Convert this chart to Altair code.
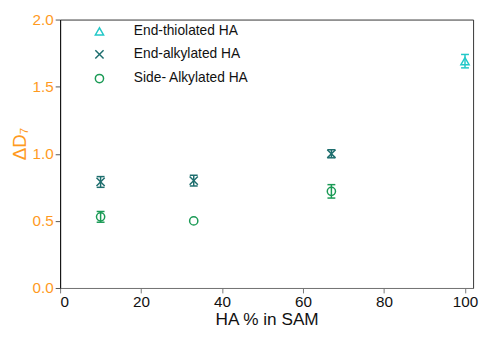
import altair as alt
import pandas as pd

series = ["End-thiolated HA", "End-alkylated HA", "Side- Alkylated HA"]
colors = ["#22C8C8", "#1E6E6E", "#1A9A55"]
shapes = ["triangle-up", "M-1,-1L1,1M-1,1L1,-1", "circle"]

thiol_x = [100]
thiol_y = [1.69]
thiol_err = [0.05]

alkyl_x = [10, 33, 67]
alkyl_y = [0.79, 0.80, 1.00]
alkyl_err = [0.04, 0.04, 0.03]

side_x = [10, 33, 67]
side_y = [0.53, 0.50, 0.72]
side_err = [0.04, 0.0, 0.05]

rows = []
for name, xs, ys, es in [
    (series[0], thiol_x, thiol_y, thiol_err),
    (series[1], alkyl_x, alkyl_y, alkyl_err),
    (series[2], side_x, side_y, side_err),
]:
    for x, y, e in zip(xs, ys, es):
        rows.append({"series": name, "x": x, "y": y, "err": e, "lo": y - e, "hi": y + e})
df = pd.DataFrame(rows)

FONT = "Liberation Sans"
ORANGE = "#FF9A1E"

xscale = alt.Scale(domain=[0, 102], nice=False, zero=False)
yscale = alt.Scale(domain=[0, 2], nice=False)
legend = alt.Legend(title=None, orient="none", legendX=33, legendY=5,
                    symbolSize=70, symbolStrokeWidth=1.5, labelFontSize=14,
                    labelFont=FONT, labelColor="#111", labelOffset=28,
                    rowPadding=8.5, symbolOpacity=1, symbolFillColor="transparent")
color = alt.Color("series:N", scale=alt.Scale(domain=series, range=colors), legend=legend)
shape = alt.Shape("series:N", scale=alt.Scale(domain=series, range=shapes), legend=legend)

base = alt.Chart(df)

xax = alt.X("x:Q", scale=xscale, title="HA % in SAM",
            axis=alt.Axis(values=[0, 20, 40, 60, 80, 100], grid=False, tickSize=5,
                          labelFontSize=15.5, titleFontSize=17.5, labelFont=FONT, titleFont=FONT,
                          labelColor="#111", titleColor="#111", titleFontWeight="normal",
                          domainColor="#777", tickColor="#777", labelPadding=2, titlePadding=1))
yax = alt.Y("y:Q", scale=yscale, title="ΔD₇",
            axis=alt.Axis(values=[0, 0.5, 1.0, 1.5, 2.0], format=".1f", grid=False, tickSize=5,
                          labelFontSize=15.5, titleFontSize=19, labelFont=FONT, titleFont=FONT,
                          labelColor=ORANGE, titleColor=ORANGE, titleFontWeight="normal",
                          domainColor="#111", tickColor="#555", labelPadding=2, titlePadding=3,
                          titleY=126))

stroke = alt.Stroke("series:N", scale=alt.Scale(domain=series, range=colors), legend=None)
err = base.transform_filter("datum.err > 0")
rules = err.mark_rule(strokeWidth=1.5).encode(
    x="x:Q", y=alt.Y("lo:Q", scale=yscale), y2="hi:Q", stroke=stroke)
caps_lo = err.mark_rule(strokeWidth=1.5, xOffset=-4, x2Offset=4).encode(
    x="x:Q", x2="x:Q", y=alt.Y("lo:Q", scale=yscale), stroke=stroke)
caps_hi = err.mark_rule(strokeWidth=1.5, xOffset=-4, x2Offset=4).encode(
    x="x:Q", x2="x:Q", y=alt.Y("hi:Q", scale=yscale), stroke=stroke)

points = base.mark_point(filled=False, size=70, strokeWidth=1.5, opacity=1).encode(
    x=xax, y=yax, color=color, shape=shape)

chart = alt.layer(points, rules, caps_lo, caps_hi).properties(
    width=420, height=273,
    autosize=alt.AutoSizeParams(type="none"),
    padding={"left": 53, "top": 9, "right": 6, "bottom": 42},
).configure_view(stroke="#333", strokeWidth=1)

chart.save("out.html", embed_options={"renderer": "svg", "actions": False})
